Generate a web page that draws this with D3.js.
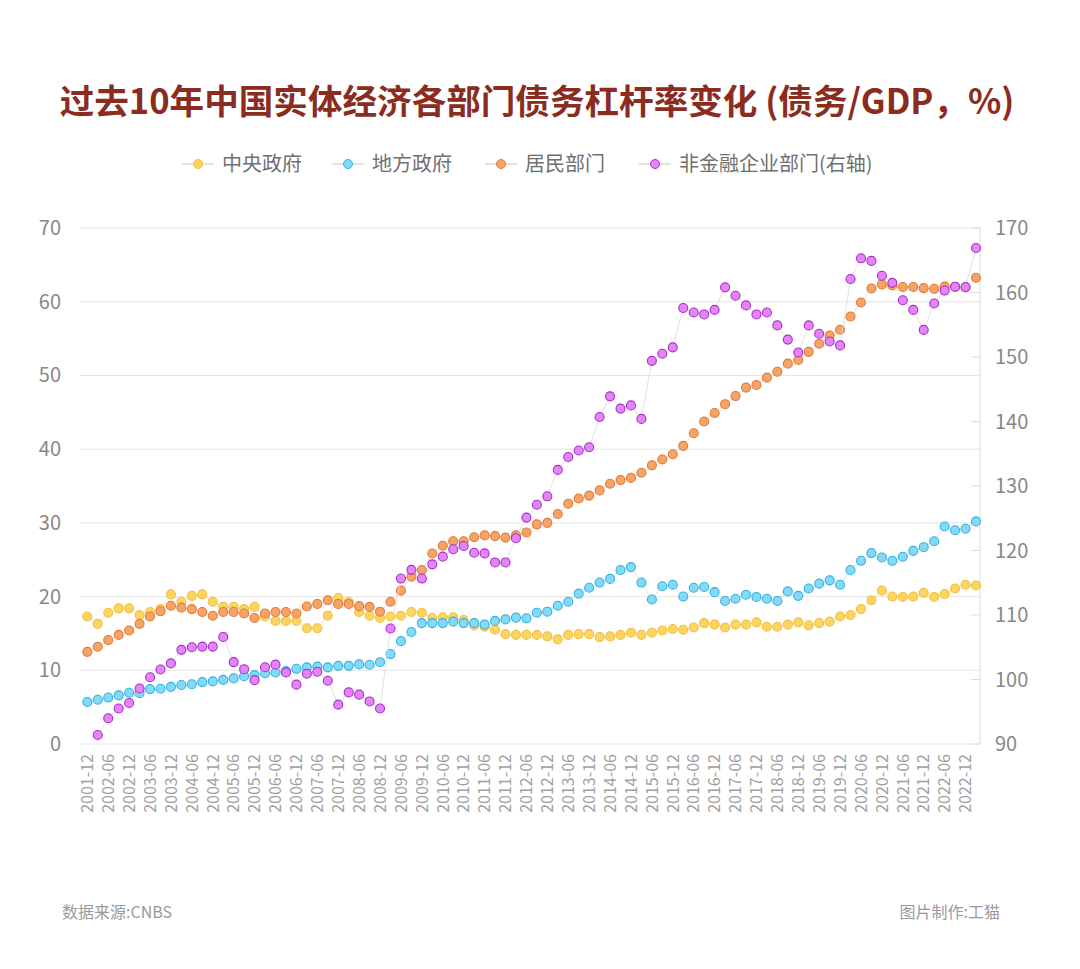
<!DOCTYPE html>
<html>
<head>
<meta charset="utf-8">
<script src="https://cdn.jsdelivr.net/npm/d3@7/dist/d3.min.js"></script>
<style>
  body { margin: 0; background: #fff; }
  svg text { font-family: "Noto Sans CJK SC", "Noto Sans", sans-serif; }
</style>
</head>
<body>
<svg id="chart" width="1080" height="969"></svg>
<script>
// quarterly categories
var quarters = [
  "2001-12",
  "2002-03","2002-06","2002-09","2002-12",
  "2003-03","2003-06","2003-09","2003-12",
  "2004-03","2004-06","2004-09","2004-12",
  "2005-03","2005-06","2005-09","2005-12",
  "2006-03","2006-06","2006-09","2006-12",
  "2007-03","2007-06","2007-09","2007-12",
  "2008-03","2008-06","2008-09","2008-12",
  "2009-03","2009-06","2009-09","2009-12",
  "2010-03","2010-06","2010-09","2010-12",
  "2011-03","2011-06","2011-09","2011-12",
  "2012-03","2012-06","2012-09","2012-12",
  "2013-03","2013-06","2013-09","2013-12",
  "2014-03","2014-06","2014-09","2014-12",
  "2015-03","2015-06","2015-09","2015-12",
  "2016-03","2016-06","2016-09","2016-12",
  "2017-03","2017-06","2017-09","2017-12",
  "2018-03","2018-06","2018-09","2018-12",
  "2019-03","2019-06","2019-09","2019-12",
  "2020-03","2020-06","2020-09","2020-12",
  "2021-03","2021-06","2021-09","2021-12",
  "2022-03","2022-06","2022-09","2022-12",
  "2023-03"
];

// 中央政府 (left axis)
var central = [17.3,
  16.3,17.8,18.4,18.4, 17.5,17.9,18.3,20.3, 19.3,20.1,20.3,19.3, 18.6,18.6,18.3,18.6,
  17.3,16.7,16.7,16.7, 15.7,15.7,17.4,19.8, 19.3,17.9,17.4,17.1, 17.3,17.4,17.9,17.8,
  17.1,17.2,17.2,16.8, 16.1,15.9,15.5,14.9, 14.8,14.8,14.8,14.6, 14.2,14.8,14.9,14.9,
  14.5,14.6,14.8,15.1, 14.8,15.1,15.4,15.6, 15.5,15.8,16.4,16.2, 15.8,16.2,16.2,16.5,
  15.9,15.9,16.2,16.5, 16.1,16.4,16.6,17.3, 17.5,18.3,19.5,20.8, 20.0,19.95,20.0,20.5,
  19.95,20.35,21.1,21.6, 21.5];

// 地方政府 (left axis)
var local = [5.7,
  6.0,6.3,6.6,6.95, 6.9,7.45,7.5,7.75, 8.0,8.1,8.4,8.5, 8.7,8.9,9.2,9.35,
  9.6,9.7,9.9,10.2, 10.4,10.5,10.4,10.6, 10.6,10.8,10.75,11.1, 12.2,13.95,15.2,16.4,
  16.4,16.4,16.6,16.4, 16.4,16.2,16.7,16.9, 17.15,17.05,17.8,17.95, 18.75,19.3,20.4,21.2,
  21.9,22.4,23.6,24.0, 21.9,19.6,21.4,21.6, 20.0,21.2,21.3,20.6, 19.4,19.7,20.25,19.95,
  19.7,19.4,20.7,20.1, 21.1,21.75,22.2,21.6, 23.6,24.85,25.9,25.3, 24.85,25.4,26.2,26.7,
  27.5,29.5,29.0,29.2, 30.2];

// 居民部门 (left axis)
var household = [12.5,
  13.2,14.1,14.8,15.4, 16.3,17.3,18.0,18.75, 18.5,18.3,17.9,17.4, 17.9,17.9,17.7,17.1,
  17.7,17.9,17.9,17.7, 18.65,19.0,19.5,19.0, 19.0,18.7,18.6,17.95, 19.3,20.8,22.7,23.6,
  25.85,26.9,27.5,27.5, 28.05,28.3,28.2,28.0, 28.3,28.7,29.8,30.0, 31.2,32.6,33.3,33.7,
  34.4,35.3,35.8,36.1, 36.8,37.8,38.6,39.3, 40.45,42.15,43.75,44.9, 46.1,47.2,48.35,48.7,
  49.7,50.5,51.6,52.1, 53.2,54.3,55.4,56.2, 58.0,59.9,61.8,62.35, 62.2,62.0,62.0,61.85,
  61.75,62.05,62.0,61.95, 63.25];

// 非金融企业部门 (right axis)
var corporate = [null,
  91.4,94.0,95.5,96.35, 98.6,100.35,101.55,102.5, 104.6,105.0,105.1,105.1, 106.6,102.7,101.6,99.9,
  101.9,102.3,101.1,99.2, 100.9,101.2,99.8,96.1, 98.0,97.65,96.6,95.5, 107.9,115.65,117.0,115.65,
  117.85,119.05,120.2,120.7, 119.65,119.55,118.15,118.15, 121.9,125.1,127.1,128.4, 132.5,134.5,135.5,136.0,
  140.7,143.9,142.0,142.5, 140.4,149.4,150.5,151.5, 157.6,156.9,156.6,157.3, 160.8,159.5,158.0,156.6,
  156.9,154.9,152.7,150.7, 154.9,153.6,152.4,151.8, 162.1,165.3,164.9,162.6, 161.5,158.8,157.3,154.2,
  158.3,160.3,160.9,160.85, 166.9];

var leftTicks = [0, 10, 20, 30, 40, 50, 60, 70];
var rightTicks = [90, 100, 110, 120, 130, 140, 150, 160, 170];
var seriesNames = ["中央政府", "地方政府", "居民部门", "非金融企业部门(右轴)"];

var series = [
  { name: seriesNames[0], values: central,   axis: "left",  fill: "#fcd461", stroke: "#f3c03d" },
  { name: seriesNames[1], values: local,     axis: "left",  fill: "#84daf6", stroke: "#33b2e3" },
  { name: seriesNames[2], values: household, axis: "left",  fill: "#f6a466", stroke: "#e2793a" },
  { name: seriesNames[3], values: corporate, axis: "right", fill: "#e584f6", stroke: "#a530cc" }
];

var svg = d3.select("#chart");
var plotLeft = 80, plotRight = 980, plotTop = 228, plotBottom = 744;

var x = d3.scalePoint()
  .domain(quarters)
  .range([87.3, 976]);

var yLeft = d3.scaleLinear().domain([0, 70]).range([plotBottom, plotTop]);
var yRight = d3.scaleLinear().domain([90, 170]).range([plotBottom, plotTop]);

// title
svg.append("text")
  .attr("x", 537).attr("y", 114)
  .attr("text-anchor", "middle")
  .attr("font-size", 34.6).attr("font-weight", 700)
  .attr("fill", "#8b2c20")
  .text("过去10年中国实体经济各部门债务杠杆率变化 (债务/GDP，%)");

// legend
var legendX = [198, 348, 501, 655];
var legend = svg.append("g");
series.forEach(function(s, i) {
  var g = legend.append("g").attr("transform", "translate(" + legendX[i] + ",164)");
  g.append("line").attr("x1", -16).attr("x2", 16).attr("y1", 0).attr("y2", 0)
    .attr("stroke", "#e2e2e2").attr("stroke-width", 2);
  g.append("circle").attr("r", 4.5).attr("fill", s.fill).attr("stroke", s.stroke).attr("stroke-width", 1);
  g.append("text").attr("x", 24).attr("y", 7)
    .attr("font-size", 20).attr("fill", "#707070")
    .text(s.name);
});

// gridlines (left axis)
svg.append("g").selectAll("line")
  .data(leftTicks).enter().append("line")
  .attr("x1", plotLeft).attr("x2", plotRight)
  .attr("y1", function(d) { return yLeft(d); })
  .attr("y2", function(d) { return yLeft(d); })
  .attr("stroke", "#e6e6e6").attr("stroke-width", 1);

// left axis labels
svg.append("g").selectAll("text")
  .data(leftTicks).enter().append("text")
  .attr("x", 61).attr("y", function(d) { return yLeft(d) + 7; })
  .attr("text-anchor", "end")
  .attr("font-size", 20).attr("fill", "#888")
  .text(function(d) { return d; });

// right axis
var rightAxis = svg.append("g").attr("transform", "translate(" + plotRight + ",0)");
rightAxis.append("line")
  .attr("x1", 0).attr("x2", 0).attr("y1", plotTop).attr("y2", plotBottom)
  .attr("stroke", "#dcdcdc");
rightAxis.selectAll(".tick").data(rightTicks).enter().append("line")
  .attr("x1", -9).attr("x2", 0)
  .attr("y1", function(d) { return yRight(d); })
  .attr("y2", function(d) { return yRight(d); })
  .attr("stroke", "#dcdcdc");
rightAxis.selectAll("text").data(rightTicks).enter().append("text")
  .attr("x", 15).attr("y", function(d) { return yRight(d) + 7; })
  .attr("font-size", 20).attr("fill", "#888")
  .text(function(d) { return d; });

// x labels, every other quarter
var xLabels = quarters.filter(function(d, i) { return i % 2 === 0; });
svg.append("g").selectAll("text")
  .data(xLabels).enter().append("text")
  .attr("transform", function(d) { return "translate(" + x(d) + ",754) rotate(-90)"; })
  .attr("text-anchor", "end")
  .attr("dy", "0.36em")
  .attr("font-size", 16).attr("fill", "#a0a0a0")
  .text(function(d) { return d; });

// series
series.forEach(function(s) {
  var y = s.axis === "left" ? yLeft : yRight;
  var pts = quarters.map(function(q, i) { return { q: q, v: s.values[i] }; })
    .filter(function(d) { return d.v !== null; });
  var line = d3.line()
    .x(function(d) { return x(d.q); })
    .y(function(d) { return y(d.v); });
  var g = svg.append("g");
  g.append("path").datum(pts)
    .attr("d", line)
    .attr("fill", "none")
    .attr("stroke", "#d9d9d9")
    .attr("stroke-width", 0.8);
  g.selectAll("circle").data(pts).enter().append("circle")
    .attr("cx", function(d) { return x(d.q); })
    .attr("cy", function(d) { return y(d.v); })
    .attr("r", 4.5)
    .attr("fill", s.fill)
    .attr("stroke", s.stroke)
    .attr("stroke-width", 1.1);
});

// footer
svg.append("text").attr("x", 62).attr("y", 918)
  .attr("font-size", 16).attr("fill", "#9a9a9a")
  .text("数据来源:CNBS");
svg.append("text").attr("x", 1000).attr("y", 918)
  .attr("text-anchor", "end")
  .attr("font-size", 16).attr("fill", "#9a9a9a")
  .text("图片制作:工猫");
</script>
</body>
</html>
